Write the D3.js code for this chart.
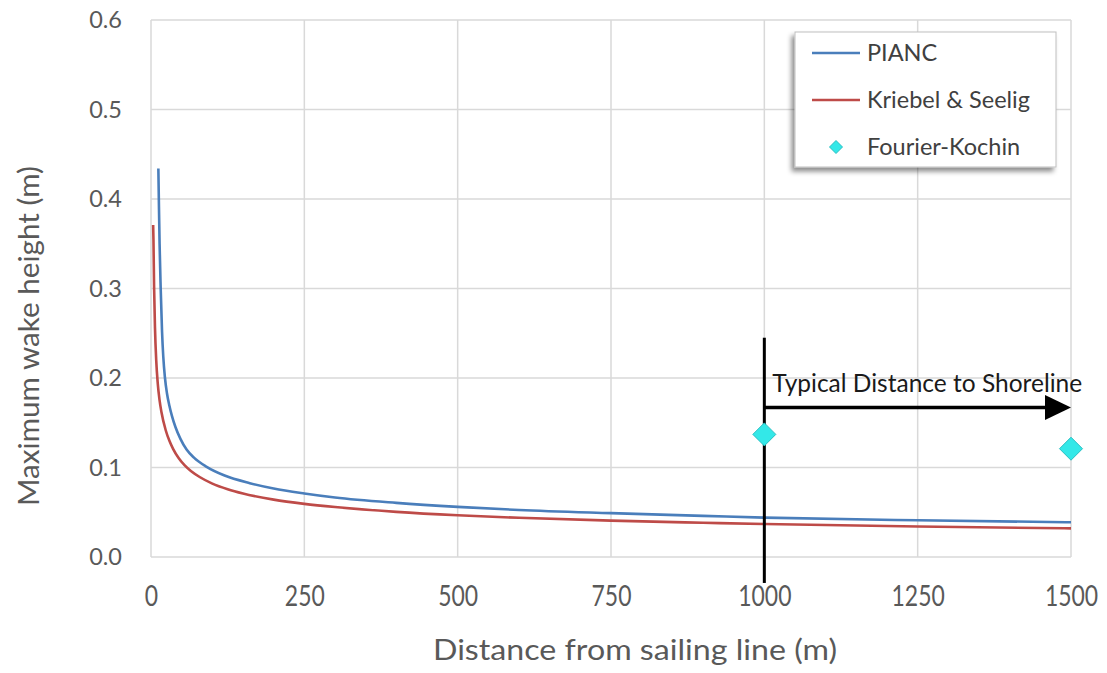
<!DOCTYPE html>
<html>
<head>
<meta charset="utf-8">
<script src="https://cdn.jsdelivr.net/npm/d3@7"></script>
<style>
  html, body { margin: 0; padding: 0; background: #ffffff; }
  svg { display: block; font-family: Lato, "Open Sans", "DejaVu Sans", sans-serif; }
</style>
</head>
<body>
<svg id="chart" width="1107" height="673"></svg>
<script>
// Wake height predictions vs. distance from the sailing line
const distancePIANC = [12, 13, 14, 15.8, 18, 20, 22.8, 26, 30, 34, 40, 48, 58, 70, 90, 120, 161, 200, 250, 300, 400, 500, 600, 750, 900, 1000, 1250, 1500];
const heightPIANC   = [0.434, 0.390, 0.350, 0.300, 0.252, 0.224, 0.200, 0.183, 0.169, 0.158, 0.145, 0.132, 0.120, 0.111, 0.101, 0.091, 0.0825, 0.0765, 0.071, 0.0665, 0.0605, 0.056, 0.0525, 0.049, 0.046, 0.044, 0.041, 0.0388];

const distanceKS = [3.5, 4, 5, 6.5, 8.5, 11, 14, 17, 24, 30, 36, 45, 55, 65, 80, 100, 125, 150, 200, 250, 300, 400, 500, 600, 750, 900, 1000, 1250, 1500];
const heightKS   = [0.371, 0.355, 0.303, 0.256, 0.220, 0.194, 0.175, 0.162, 0.1416, 0.1298, 0.1209, 0.1106, 0.1023, 0.0961, 0.0891, 0.082, 0.0757, 0.0709, 0.0641, 0.0594, 0.0558, 0.0504, 0.0466, 0.0438, 0.0406, 0.0382, 0.0368, 0.0341, 0.032];

const distanceFK = [1000, 1500];
const heightFK   = [0.137, 0.121];

const xTicks = [0, 250, 500, 750, 1000, 1250, 1500];
const yTicks = [0.0, 0.1, 0.2, 0.3, 0.4, 0.5, 0.6];

const seriesNames = ["PIANC", "Kriebel & Seelig", "Fourier-Kochin"];

// Shoreline annotation: marker distance, arrow end, arrow height, marker line extent
const shoreStart = [1000];
const shoreEnd = [1500];
const shoreArrowLevel = [0.167];
const shoreLineSpan = [-0.029, 0.245];
const shoreLabel = "Typical Distance to Shoreline";

const svg = d3.select("#chart");
const plot = { left: 151, right: 1071, top: 20, bottom: 557 };

const x = d3.scaleLinear().domain([0, 1500]).range([plot.left, plot.right]);
const y = d3.scaleLinear().domain([0, 0.6]).range([plot.bottom, plot.top]);

const colBlue = "#4a7ebb", colRed = "#be4b48", colCyan = "#33e8e8", colCyanEdge = "#29bfc2";
const gridCol = "#d9d9d9", tickCol = "#595959";

// drop shadow for the legend
const defs = svg.append("defs");
const sh = defs.append("filter").attr("id", "legendShadow")
  .attr("x", "-10%").attr("y", "-10%").attr("width", "125%").attr("height", "130%");
sh.append("feDropShadow").attr("dx", -3).attr("dy", 4).attr("stdDeviation", 2.5)
  .attr("flood-color", "#000").attr("flood-opacity", 0.45);

// gridlines
const grid = svg.append("g");
grid.selectAll("line.h").data(yTicks).join("line")
  .attr("x1", plot.left).attr("x2", plot.right)
  .attr("y1", d => y(d)).attr("y2", d => y(d))
  .attr("stroke", gridCol).attr("stroke-width", 1.5);
grid.selectAll("line.v").data(xTicks).join("line")
  .attr("y1", plot.top).attr("y2", plot.bottom)
  .attr("x1", d => x(d)).attr("x2", d => x(d))
  .attr("stroke", gridCol).attr("stroke-width", 1.5);

// axes (labels only, Excel style)
const yAxis = d3.axisLeft(y).tickValues(yTicks).tickFormat(d3.format(".1f")).tickSize(0).tickPadding(29);
const gy = svg.append("g").attr("transform", `translate(${plot.left},0)`).call(yAxis);
gy.select(".domain").remove();
gy.selectAll("text").attr("fill", tickCol).attr("font-size", 23.5).attr("font-family", "Lato, sans-serif");

const xAxis = d3.axisBottom(x).tickValues(xTicks).tickFormat(d3.format("d")).tickSize(0).tickPadding(29);
const gx = svg.append("g").attr("transform", `translate(0,${plot.bottom})`).call(xAxis);
gx.select(".domain").remove();
gx.selectAll("text").attr("fill", tickCol).attr("font-size", 28).attr("font-family", "Lato, sans-serif")
  .attr("transform", "scale(0.82,1)");

// axis titles
svg.append("text")
  .attr("transform", `translate(39,336) rotate(-90)`)
  .attr("text-anchor", "middle").attr("fill", tickCol)
  .attr("font-size", 29).attr("textLength", 340).attr("lengthAdjust", "spacingAndGlyphs")
  .text("Maximum wake height (m)");
svg.append("text")
  .attr("x", 635).attr("y", 660)
  .attr("text-anchor", "middle").attr("fill", tickCol)
  .attr("font-size", 29).attr("textLength", 404).attr("lengthAdjust", "spacingAndGlyphs")
  .text("Distance from sailing line (m)");

// series lines
const line = d3.line().x(d => x(d[0])).y(d => y(d[1])).curve(d3.curveMonotoneX);
svg.append("path").datum(d3.zip(distanceKS, heightKS))
  .attr("d", line).attr("fill", "none").attr("stroke", colRed).attr("stroke-width", 2.6);
svg.append("path").datum(d3.zip(distancePIANC, heightPIANC))
  .attr("d", line).attr("fill", "none").attr("stroke", colBlue).attr("stroke-width", 2.6);

// shoreline annotation
const ann = svg.append("g");
ann.append("line")
  .attr("x1", x(shoreStart[0])).attr("x2", x(shoreStart[0]))
  .attr("y1", y(shoreLineSpan[1])).attr("y2", y(shoreLineSpan[0]))
  .attr("stroke", "#000").attr("stroke-width", 3);
const ay = y(shoreArrowLevel[0]);
const tipX = x(shoreEnd[0]);
ann.append("line")
  .attr("x1", x(shoreStart[0])).attr("x2", tipX - 20)
  .attr("y1", ay).attr("y2", ay)
  .attr("stroke", "#000").attr("stroke-width", 3.5);
ann.append("path")
  .attr("d", `M${tipX},${ay} L${tipX - 26},${ay - 12.5} L${tipX - 26},${ay + 12.5} Z`)
  .attr("fill", "#000");
ann.append("text")
  .attr("x", x(shoreStart[0]) + 8).attr("y", ay - 16)
  .attr("fill", "#1a1a1a").attr("font-size", 24.5)
  .text(shoreLabel);

// Fourier-Kochin markers
const diamond = r => `M0,${-r} L${r},0 L0,${r} L${-r},0 Z`;
svg.append("g").selectAll("path").data(d3.zip(distanceFK, heightFK)).join("path")
  .attr("transform", d => `translate(${x(d[0])},${y(d[1])})`)
  .attr("d", diamond(11.5))
  .attr("fill", colCyan).attr("stroke", colCyanEdge).attr("stroke-width", 1);

// legend
const lg = svg.append("g").attr("transform", "translate(795,32)");
lg.append("rect").attr("width", 261).attr("height", 135)
  .attr("fill", "#fff").attr("stroke", "#bfbfbf").attr("stroke-width", 1)
  .attr("filter", "url(#legendShadow)");
const rows = [
  { name: seriesNames[0], kind: "line", color: colBlue },
  { name: seriesNames[1], kind: "line", color: colRed },
  { name: seriesNames[2], kind: "marker", color: colCyan }
];
const item = lg.selectAll("g.item").data(rows).join("g")
  .attr("transform", (d, i) => `translate(0,${21 + i * 47})`);
item.filter(d => d.kind === "line").append("line")
  .attr("x1", 17).attr("x2", 65).attr("y1", 0).attr("y2", 0)
  .attr("stroke", d => d.color).attr("stroke-width", 2.6);
item.filter(d => d.kind === "marker").append("path")
  .attr("transform", "translate(41,0)")
  .attr("d", diamond(6.5)).attr("fill", colCyan).attr("stroke", colCyanEdge).attr("stroke-width", 1);
item.append("text")
  .attr("x", 72).attr("y", 0).attr("dy", "0.35em")
  .attr("fill", "#404040").attr("font-size", 23.5)
  .text(d => d.name);
</script>
</body>
</html>
